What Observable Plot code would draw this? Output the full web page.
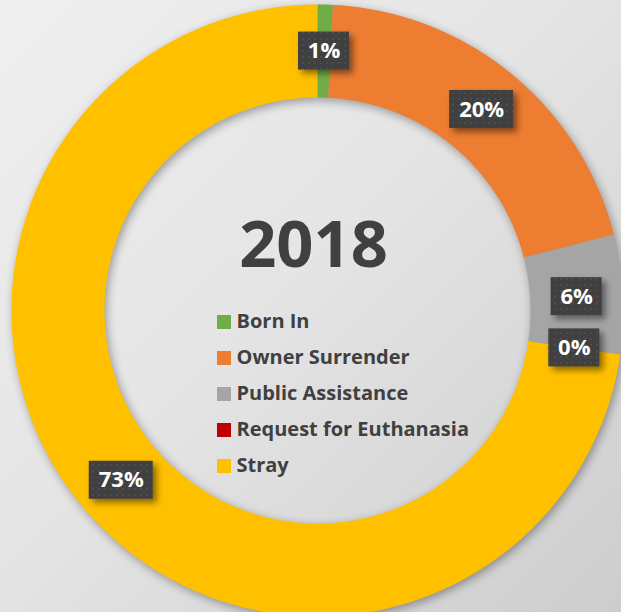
<!DOCTYPE html>
<html><head><meta charset="utf-8">
<script src="https://cdn.jsdelivr.net/npm/d3@7"></script>
<script src="https://cdn.jsdelivr.net/npm/@observablehq/plot@0.6"></script>
<style>
html,body{margin:0;padding:0;}
body{width:621px;height:612px;overflow:hidden;background:linear-gradient(135deg,#efefef 0%,#e5e5e5 45%,#cdcdcd 100%);}
#chart svg{display:block;}
</style></head><body><div id="chart"></div>
<script>
// ---- data ----
const categories = ["Born In", "Owner Surrender", "Public Assistance", "Request for Euthanasia", "Stray"];
const values = [0.8, 20.2, 6.3, 0, 72.7];
const colors = ["#70ad47", "#ed7d31", "#a5a5a5", "#c00000", "#ffc000"];
const title = "2018";

// ---- geometry (pixel units relative to donut centre) ----
const R = 306, r0 = 213, rLab = (R + r0) / 2;
const total = d3.sum(values);
const arcs = d3.pie().sort(null).value(d => d.value)(categories.map((c, i) => ({key: c, value: values[i]})));

const slicePts = [];
for (const a of arcs) {
  const n = Math.max(2, Math.ceil((a.endAngle - a.startAngle) / 0.005));
  const outer = d3.range(n + 1).map(k => a.startAngle + (a.endAngle - a.startAngle) * k / n);
  for (const t of outer) slicePts.push({key: a.data.key, x: R * Math.sin(t), y: -R * Math.cos(t)});
  for (const t of outer.slice().reverse()) slicePts.push({key: a.data.key, x: r0 * Math.sin(t), y: -r0 * Math.cos(t)});
}

const labels = arcs.map(a => {
  const m = (a.startAngle + a.endAngle) / 2;
  const text = Math.round(a.data.value / total * 100) + "%";
  const tw = text.length === 2 ? 31 : 44;
  return {key: a.data.key, text, x: rLab * Math.sin(m), y: -rLab * Math.cos(m), w: tw + 20, h: 38};
});

const legend = categories.map((c, i) => ({key: c, row: i}));
const legX = -100, legY0 = 12, legStep = 36;

const chart = Plot.plot({
  width: 621, height: 612, margin: 0,
  style: {background: "transparent", overflow: "visible"},
  x: {domain: [-317, 304], range: [0, 621], axis: null},
  y: {domain: [-310, 302], range: [0, 612], axis: null},
  color: {domain: categories, range: colors},
  marks: [
    Plot.line(slicePts, {x: "x", y: "y", z: "key", fill: "key", stroke: "none", curve: "linear-closed"}),
    Plot.rect(labels, {x1: d => d.x - d.w / 2, x2: d => d.x + d.w / 2, y1: d => d.y - d.h / 2, y2: d => d.y + d.h / 2, fill: "#404040"}),
    Plot.text(labels, {x: "x", y: "y", text: "text", fill: "white", fontSize: 22, fontWeight: "bold", fontFamily: "Open Sans", dy: 0}),
    Plot.text([title], {x: -4, y: -64, text: d => d, fill: "#404040", fontSize: 65, fontWeight: "bold", fontFamily: "Open Sans"}),
    Plot.rect(legend, {x1: legX, x2: legX + 14, y1: d => legY0 + d.row * legStep - 7, y2: d => legY0 + d.row * legStep + 7, fill: "key"}),
    Plot.text(legend, {x: legX + 19, y: d => legY0 + d.row * legStep - 1, text: "key", textAnchor: "start", fill: "#404040", fontSize: 20, fontWeight: "bold", fontFamily: "Open Sans"})
  ]
});

// decorations: shadows and dotted texture on label boxes
const svg = d3.select(chart);
svg.select('g[aria-label="line"]').style("filter", "drop-shadow(2px 3px 5px rgba(0,0,0,0.35))");
const defs = svg.insert("defs", ":first-child");
const pat = defs.append("pattern").attr("id", "dots").attr("width", 6).attr("height", 6).attr("patternUnits", "userSpaceOnUse");
pat.append("rect").attr("width", 6).attr("height", 6).attr("fill", "#404040");
pat.append("rect").attr("x", 2).attr("y", 2).attr("width", 2).attr("height", 2).attr("fill", "#4c4c4c");
const boxG = svg.selectAll('g[aria-label="rect"]').nodes()[0];
d3.select(boxG).style("filter", "drop-shadow(4px 4px 3px rgba(0,0,0,0.45))").selectAll("rect").attr("fill", "url(#dots)");

document.getElementById("chart").appendChild(chart);
</script></body></html>
